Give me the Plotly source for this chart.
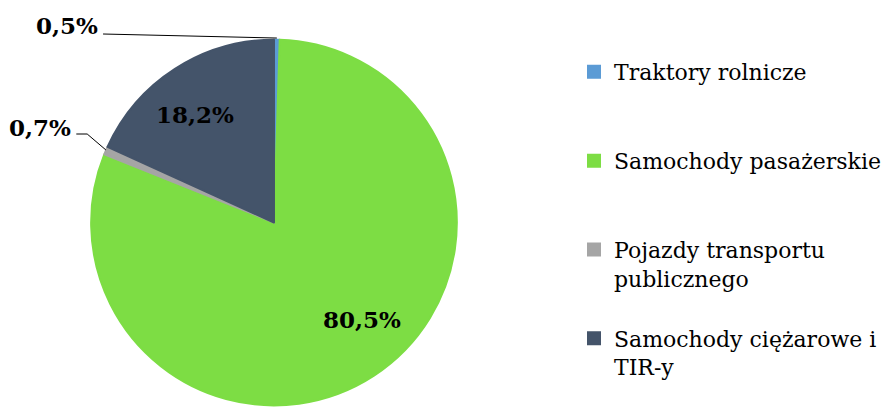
import math
import plotly.graph_objects as go

# ---- data ----
categories = ["Traktory rolnicze", "Samochody pasażerskie",
              "Pojazdy transportu publicznego", "Samochody ciężarowe i TIR-y"]
legend_text = ["Traktory rolnicze", "Samochody pasażerskie",
               "Pojazdy transportu<br>publicznego", "Samochody ciężarowe i<br>TIR-y"]
values = [0.5, 80.5, 0.7, 18.2]
colors = ["#5B9BD5", "#7DDD44", "#A5A5A5", "#44546A"]

W, H = 886, 407
FONT = "DejaVu Serif"

# pie geometry (pixels)
dom_x = [0.1038, 0.5203]
dom_y = [0.0, 0.9066]
cx = (dom_x[0] + dom_x[1]) / 2 * W
cy = (1 - (dom_y[0] + dom_y[1]) / 2) * H
r = min((dom_x[1] - dom_x[0]) * W, (dom_y[1] - dom_y[0]) * H) / 2


def fmt(v):
    return f"{v:.1f}".replace(".", ",") + "%"


def px2paper(x, y):
    return x / W, 1 - y / H


total = sum(values)
cum = [sum(values[:i]) for i in range(len(values))]
tips = []
for v, c in zip(values, cum):
    th = 2 * math.pi * (c + v / 2) / total
    tips.append((cx + r * math.sin(th), cy - r * math.cos(th)))

# pad legend entries (all but the last) so each entry occupies 3 lines
leg_labels = []
for j, t in enumerate(legend_text):
    n = t.count("<br>") + 1
    pad = 0 if j == len(legend_text) - 1 else 3 - n
    leg_labels.append(t + "<br> " * pad)

fig = go.Figure(go.Pie(
    labels=leg_labels,
    values=values,
    sort=False,
    direction="clockwise",
    rotation=0,
    marker=dict(colors=colors, line=dict(color=colors, width=2)),
    textinfo="none",
    domain=dict(x=dom_x, y=dom_y),
    hoverinfo="label+value",
))

# data labels (pixel placement of label text)
label_pos = {0: (68, 25), 1: (365, 319), 2: (40, 127), 3: (197, 114)}
line_end = {0: [(104, 34)], 2: [(77, 134), (88, 134)]}
annotations = []
shapes = []
for i, (lx, ly) in label_pos.items():
    ax_, ay_ = px2paper(lx, ly)
    annotations.append(dict(x=ax_, y=ay_, xref="paper", yref="paper",
                            xanchor="center", yanchor="middle",
                            text=fmt(values[i]), showarrow=False,
                            font=dict(family=FONT, size=23, color="black", weight="bold")))
    if i in line_end:
        pts = line_end[i] + [tips[i]]
        path = ""
        for k, (px_, py_) in enumerate(pts):
            qx, qy = px2paper(px_, py_)
            path += ("M" if k == 0 else " L") + f" {qx:.5f} {qy:.5f}"
        shapes.append(dict(type="path", path=path, xref="paper", yref="paper",
                           line=dict(color="black", width=1)))

fig.update_layout(
    width=W, height=H,
    margin=dict(l=0, r=0, t=0, b=0),
    paper_bgcolor="white",
    plot_bgcolor="white",
    separators=", ",
    showlegend=True,
    legend=dict(x=0.654, y=0.8746, xanchor="left", yanchor="top",
                font=dict(family=FONT, size=22, color="black"),
                valign="top", bgcolor="rgba(0,0,0,0)"),
    annotations=annotations,
    shapes=shapes,
)

fig.write_html("out.html")
